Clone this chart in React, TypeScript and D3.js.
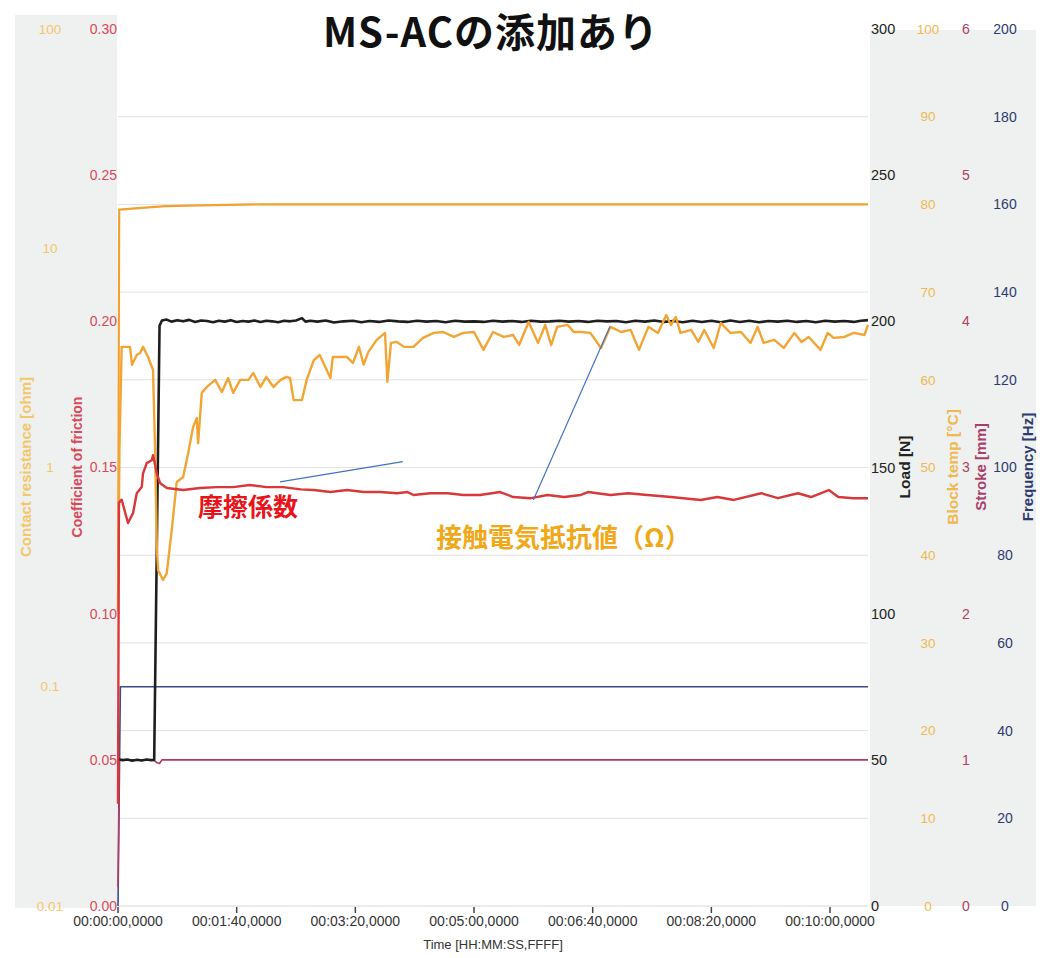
import React, { useEffect, useRef } from "react";
import * as d3 from "d3";

// time in seconds, values in the unit of each axis
const loadData: [number, number][] = [
  [0, 50.2], [4, 49.9], [8, 50.1], [12, 49.7], [16, 50.0], [20, 49.8], [24, 50.1], [28, 49.9], [30.5, 50],
  [35, 198.5], [37, 200.3], [41, 200.6], [45, 199.9], [50, 200.4], [55, 200.0], [60, 200.5], [65, 199.8],
  [70, 200.3], [75, 200.1], [80, 199.7], [85, 200.2], [90, 199.9], [95, 200.4], [100, 199.8], [105, 200.1],
  [110, 199.9], [115, 200.3], [120, 199.8], [125, 200.2], [130, 200.0], [135, 199.7], [140, 200.2],
  [145, 200.0], [150, 200.3], [155, 201.1], [158, 199.9], [162, 200.2], [168, 199.9], [175, 200.3],
  [182, 199.6], [190, 200.0], [198, 200.2], [205, 199.7], [212, 200.1], [220, 199.8], [228, 200.3],
  [236, 200.0], [244, 199.8], [252, 200.2], [260, 199.9], [268, 200.1], [276, 199.7], [284, 200.2],
  [292, 199.9], [300, 200.0], [308, 199.8], [316, 200.2], [324, 199.9], [332, 200.1], [340, 199.8],
  [348, 200.2], [356, 199.9], [364, 200.0], [372, 200.2], [380, 199.9], [388, 200.1], [396, 199.8],
  [404, 200.2], [412, 200.0], [420, 200.1], [428, 199.7], [436, 200.2], [444, 199.9], [452, 200.3],
  [460, 199.8], [468, 200.1], [476, 199.7], [484, 200.2], [492, 199.8], [500, 200.2], [508, 199.7],
  [516, 200.3], [524, 199.8], [532, 200.2], [540, 199.7], [548, 200.1], [556, 199.9], [564, 200.2],
  [572, 199.8], [580, 200.1], [588, 199.7], [596, 200.2], [604, 199.9], [612, 200.1], [620, 199.8],
  [626, 200.2], [632, 200.4],
];

const resistanceData: [number, number][] = [
  [0, 0.22], [1.2, 1.2], [3.1, 3.55], [10.1, 3.55], [11.8, 2.94], [15.8, 3.26], [18.6, 3.33], [21.1, 3.55],
  [25.3, 3.19], [29.5, 2.79], [31.2, 1.24], [32.7, 0.434], [33.8, 0.34], [38, 0.307], [41.1, 0.33],
  [45.3, 0.519], [49.5, 0.859], [54.9, 0.905], [59.1, 1.16], [63.3, 1.53], [66.4, 1.68], [67.5, 1.29],
  [70.6, 2.19], [74.9, 2.33], [81.9, 2.51], [87.5, 2.21], [92.8, 2.56], [97, 2.19], [103, 2.51], [110, 2.51],
  [114, 2.7], [120, 2.33], [125, 2.59], [131, 2.33], [137, 2.51], [142, 2.59], [145, 2.56], [148, 2.03],
  [155, 2.03], [159, 2.51], [165, 3.09], [170, 3.26], [179, 2.56], [181, 3.19], [193, 3.19], [198, 3.0],
  [203, 3.55], [207, 2.95], [211, 3.37], [218, 3.82], [225, 4.11], [227, 2.46], [230, 3.7], [235, 3.74],
  [241, 3.55], [249, 3.55], [257, 3.9], [266, 4.11], [274, 4.15], [283, 3.94], [291, 4.11], [300, 4.15],
  [308, 3.44], [316, 4.15], [325, 3.94], [333, 4.02], [338, 3.62], [346, 4.61], [354, 3.7], [360, 4.47],
  [365, 3.62], [370, 4.38], [379, 4.47], [384, 4.15], [390, 4.15], [398, 4.11], [407, 3.51], [415, 4.38],
  [424, 4.15], [432, 4.24], [439, 3.44], [447, 4.38], [455, 4.11], [462, 4.96], [466, 4.47], [470, 4.86],
  [474, 4.11], [483, 4.24], [489, 3.74], [494, 4.24], [502, 3.51], [508, 4.56], [516, 4.11], [525, 4.15],
  [533, 3.7], [539, 4.38], [544, 3.7], [553, 3.82], [561, 3.51], [570, 4.11], [576, 3.74], [582, 3.94],
  [592, 3.44], [598, 4.11], [603, 3.9], [612, 3.94], [620, 4.11], [629, 4.02], [632, 4.47],
];

const frictionData: [number, number][] = [
  [0, 0.035], [0.8, 0.138], [3.1, 0.139], [8.4, 0.131], [12.7, 0.1344], [15.8, 0.1412], [20, 0.1433],
  [21.1, 0.148], [24.2, 0.1515], [28.4, 0.1525], [29.5, 0.1542], [32.7, 0.148], [35.4, 0.1447],
  [41.1, 0.143], [54.9, 0.1423], [69.2, 0.143], [83.3, 0.1433], [97, 0.1433], [111, 0.144], [125, 0.1433],
  [139, 0.1433], [154, 0.1425], [165, 0.1423], [179, 0.1416], [193, 0.1423], [207, 0.1416], [221, 0.1416],
  [235, 0.1412], [244, 0.1416], [249, 0.1406], [263, 0.1412], [278, 0.1412], [291, 0.1406], [305, 0.1406],
  [322, 0.1416], [333, 0.1399], [348, 0.1395], [362, 0.1406], [376, 0.1399], [390, 0.1406], [396, 0.1416],
  [415, 0.1406], [430, 0.1412], [446, 0.1406], [466, 0.1399], [491, 0.1389], [505, 0.1399], [519, 0.1389],
  [542, 0.1412], [556, 0.1395], [573, 0.1412], [584, 0.1399], [599, 0.1423], [607, 0.1399], [620, 0.1395],
  [632, 0.1395],
];

const blockTempData: [number, number][] = [
  [0, 34], [1, 79.4], [20, 79.6], [40, 79.8], [70, 79.9], [120, 80.0], [632, 80.0],
];
const strokeData: [number, number][] = [
  [0, 0.13], [1, 1.0], [30, 1.0], [33, 0.98], [35, 0.975], [37, 1.0], [632, 1.0],
];
const frequencyData: [number, number][] = [
  [0, 0], [2, 50], [632, 50],
];

const timeTicks = [0, 100, 200, 300, 400, 500, 600];
const resistanceTicks = [0.01, 0.1, 1, 10, 100];
const frictionTicks = [0, 0.05, 0.1, 0.15, 0.2, 0.25, 0.3];
const loadTicks = [0, 50, 100, 150, 200, 250, 300];
const tempTicks = [0, 10, 20, 30, 40, 50, 60, 70, 80, 90, 100];
const strokeTicks = [0, 1, 2, 3, 4, 5, 6];
const freqTicks = [0, 20, 40, 60, 80, 100, 120, 140, 160, 180, 200];

const LATIN = "'Liberation Sans', Arial, sans-serif";
const CJK = "'Noto Sans CJK JP', sans-serif";

export default function App() {
  const ref = useRef<SVGSVGElement>(null);

  useEffect(() => {
    document.body.style.margin = "0";
    const svg = d3.select(ref.current);
    svg.selectAll("*").remove();

    const left = 118, right = 868, top = 29, bottom = 906;

    const x = d3.scaleLinear().domain([0, 632]).range([left, right]);
    const yRes = d3.scaleLog().domain([0.01, 100]).range([bottom, top]);
    const yFric = d3.scaleLinear().domain([0, 0.3]).range([bottom, top]);
    const yLoad = d3.scaleLinear().domain([0, 300]).range([bottom, top]);
    const yTemp = d3.scaleLinear().domain([0, 100]).range([bottom, top]);
    const yStroke = d3.scaleLinear().domain([0, 6]).range([bottom, top]);
    const yFreq = d3.scaleLinear().domain([0, 200]).range([bottom, top]);

    svg.append("rect").attr("width", 1040).attr("height", 958).attr("fill", "#fff");
    // grey side panels
    svg.append("rect").attr("x", 15).attr("y", 15).attr("width", left - 16).attr("height", bottom - 13).attr("fill", "#eef1ef");
    svg.append("rect").attr("x", right + 2).attr("y", 30).attr("width", 166).attr("height", bottom - 30).attr("fill", "#eef1ef");

    // grid
    svg.append("g").selectAll("line").data(tempTicks.slice(1, -1)).enter().append("line")
      .attr("x1", left).attr("x2", right)
      .attr("y1", d => yTemp(d)).attr("y2", d => yTemp(d))
      .attr("stroke", "#e2e2e2").attr("stroke-width", 1);
    svg.append("line").attr("x1", left).attr("x2", right).attr("y1", bottom).attr("y2", bottom)
      .attr("stroke", "#d8d8d8");

    // x axis ticks + labels
    const pad = d3.format("02d");
    const fmtTime = (s: number) =>
      `${pad(Math.floor(s / 3600))}:${pad(Math.floor((s % 3600) / 60))}:${pad(s % 60)},0000`;
    const xt = svg.append("g");
    xt.selectAll("line").data(timeTicks).enter().append("line")
      .attr("x1", d => x(d)).attr("x2", d => x(d)).attr("y1", bottom + 1).attr("y2", bottom + 7)
      .attr("stroke", "#444").attr("stroke-width", 1.5);
    xt.selectAll("text").data(timeTicks).enter().append("text")
      .attr("x", d => x(d)).attr("y", bottom + 20).attr("text-anchor", "middle")
      .attr("font-family", LATIN).attr("font-size", 14).attr("fill", "#333")
      .text(d => fmtTime(d));
    svg.append("text").attr("x", (left + right) / 2).attr("y", 949).attr("text-anchor", "middle")
      .attr("font-family", LATIN).attr("font-size", 13).attr("fill", "#333")
      .text("Time [HH:MM:SS,FFFF]");

    // y tick labels
    const ticks = (vals: number[], scale: any, xPos: number, anchor: string, color: string, size: number, fmt: (d: number) => string) => {
      svg.append("g").selectAll("text").data(vals).enter().append("text")
        .attr("x", xPos).attr("y", d => scale(d)).attr("dy", "0.35em").attr("text-anchor", anchor)
        .attr("font-family", LATIN).attr("font-size", size).attr("fill", color)
        .text(d => fmt(d));
    };
    ticks(resistanceTicks, yRes, 50, "middle", "#f3c76a", 13.5, d => String(d));
    ticks(frictionTicks, yFric, 117, "end", "#d9485a", 14, d3.format(".2f"));
    ticks(loadTicks, yLoad, 871, "start", "#222", 14.5, d => String(d));
    ticks(tempTicks, yTemp, 928, "middle", "#f0b850", 13.5, d => String(d));
    ticks(strokeTicks, yStroke, 966, "middle", "#b04060", 14, d => String(d));
    ticks(freqTicks, yFreq, 1005, "middle", "#2e3b6e", 14, d => String(d));

    // axis titles
    const vtitle = (txt: string, xPos: number, color: string, size: number) => {
      svg.append("text").attr("transform", `translate(${xPos},467) rotate(-90)`)
        .attr("text-anchor", "middle").attr("dy", "0.35em")
        .attr("font-family", LATIN).attr("font-size", size).attr("font-weight", "bold").attr("fill", color)
        .text(txt);
    };
    vtitle("Contact resistance [ohm]", 26, "#f3c76a", 15);
    vtitle("Coefficient of friction", 77, "#d9485a", 14);
    vtitle("Load [N]", 905, "#222", 15.5);
    vtitle("Block temp [°C]", 953, "#f0b850", 15.5);
    vtitle("Stroke [mm]", 981, "#a8406a", 15);
    vtitle("Frequency [Hz]", 1028, "#2e3b6e", 15);

    // series
    const draw = (data: [number, number][], scale: any, color: string, width: number) => {
      const line = d3.line<[number, number]>().x(d => x(d[0])).y(d => scale(d[1]));
      svg.append("path").datum(data).attr("d", line).attr("fill", "none")
        .attr("stroke", color).attr("stroke-width", width).attr("stroke-linejoin", "round");
    };
    draw(frequencyData, yFreq, "#3b4a8a", 1.6);
    draw(strokeData, yStroke, "#b23a5c", 1.6);
    draw(loadData, yLoad, "#1e1e1e", 2.6);
    draw(blockTempData, yTemp, "#f3a030", 2.2);
    draw(resistanceData, yRes, "#f2a535", 2.4);
    draw(frictionData, yFric, "#d9383a", 2.4);

    // annotations
    const ann = svg.append("g");
    ann.append("line")
      .attr("x1", x(136.5)).attr("y1", yFric(0.1451)).attr("x2", x(240)).attr("y2", yFric(0.152))
      .attr("stroke", "#4472c4").attr("stroke-width", 1.2);
    ann.append("line")
      .attr("x1", x(350)).attr("y1", yRes(0.71)).attr("x2", x(414.5)).attr("y2", yRes(4.38))
      .attr("stroke", "#4472c4").attr("stroke-width", 1.2);
    ann.append("text").attr("x", x(67.4)).attr("y", yFric(0.1334))
      .attr("font-family", CJK).attr("font-weight", "bold").attr("font-size", 25).attr("fill", "#e8141c")
      .text("摩擦係数");
    ann.append("text").attr("x", x(268)).attr("y", yRes(0.434))
      .attr("font-family", CJK).attr("font-weight", "bold").attr("font-size", 26).attr("fill", "#f0a818")
      .text("接触電気抵抗値（Ω）");

    svg.append("text").attr("x", 491).attr("y", 47).attr("text-anchor", "middle")
      .attr("font-family", CJK).attr("font-weight", "bold").attr("font-size", 40).attr("letter-spacing", 1)
      .attr("fill", "#111")
      .text("MS-ACの添加あり");
  }, []);

  return <svg ref={ref} width={1040} height={958} style={{ position: "absolute", left: 0, top: 0 }} />;
}
